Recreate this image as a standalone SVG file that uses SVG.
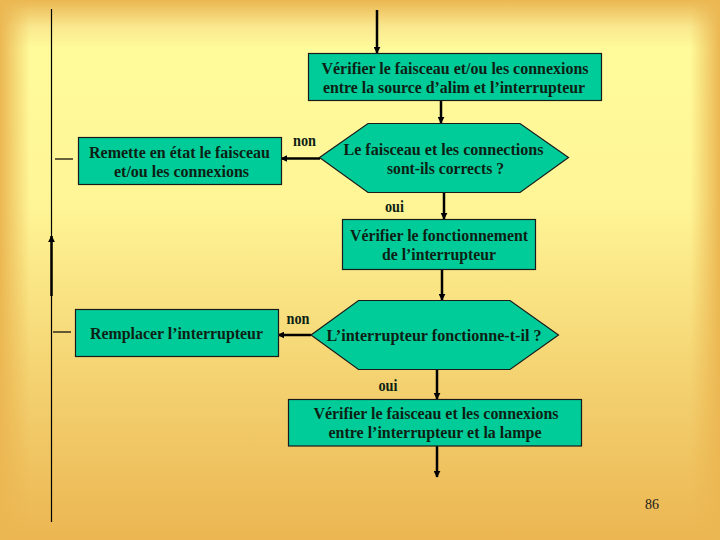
<svg xmlns="http://www.w3.org/2000/svg" width="720" height="540" viewBox="0 0 720 540">
<defs>
<linearGradient id="bgv" x1="0" y1="0" x2="0" y2="1">
<stop offset="0" stop-color="#EBB752"/>
<stop offset="0.05" stop-color="#FAE88E"/>
<stop offset="0.09" stop-color="#FFFB9B"/>
<stop offset="0.38" stop-color="#FFF596"/>
<stop offset="0.7" stop-color="#F4D271"/>
<stop offset="1" stop-color="#EBB652"/>
</linearGradient>
<linearGradient id="bgl" x1="0" y1="0" x2="1" y2="0">
<stop offset="0" stop-color="#EBB752" stop-opacity="1"/>
<stop offset="1" stop-color="#EBB752" stop-opacity="0"/>
</linearGradient>
<linearGradient id="bgr" x1="1" y1="0" x2="0" y2="0">
<stop offset="0" stop-color="#EBB752" stop-opacity="1"/>
<stop offset="1" stop-color="#EBB752" stop-opacity="0"/>
</linearGradient>
<marker id="ah" viewBox="0 0 10 10" refX="9" refY="5" markerWidth="7" markerHeight="7" markerUnits="userSpaceOnUse" orient="auto">
<path d="M0,0 L10,5 L0,10 Z" fill="#000"/>
</marker>
</defs>
<style>
.box{fill:#00CC99;stroke:#1a1a1a;stroke-width:1.2}
.t{font-family:"Liberation Serif","Times New Roman",serif;font-size:16px;font-weight:bold;fill:#0d1f14;text-anchor:middle}
.lbl{font-family:"Liberation Serif","Times New Roman",serif;font-size:16px;font-weight:bold;fill:#0d1f14;text-anchor:middle}
.arr{stroke:#000;stroke-width:2.5;fill:none;marker-end:url(#ah)}
.thin{stroke:#000;stroke-width:1.2;fill:none}
</style>
<rect x="0" y="0" width="720" height="540" fill="url(#bgv)"/>
<rect x="0" y="0" width="30" height="540" fill="url(#bgl)"/>
<rect x="690" y="0" width="30" height="540" fill="url(#bgr)"/>

<g id="connectors">
<line class="thin" x1="51.5" y1="9" x2="51.5" y2="522"/>
<line class="arr" x1="51.5" y1="296" x2="51.5" y2="236"/>
<line class="thin" x1="55" y1="159" x2="73" y2="159"/>
<line class="thin" x1="53" y1="332" x2="71" y2="332"/>
<line class="arr" x1="377" y1="10" x2="377" y2="53"/>
<line class="arr" x1="441" y1="100" x2="441" y2="123"/>
<line class="arr" x1="320" y1="158.5" x2="281" y2="158.5"/>
<line class="arr" x1="444" y1="193" x2="444" y2="219"/>
<line class="arr" x1="442" y1="269" x2="442" y2="300"/>
<line class="arr" x1="311" y1="335" x2="278" y2="335"/>
<line class="arr" x1="437" y1="369" x2="437" y2="399"/>
<line class="arr" x1="437" y1="446" x2="437" y2="477"/>
<text class="lbl" x="304.5" y="146" textLength="23" lengthAdjust="spacingAndGlyphs">non</text>
<text class="lbl" x="394.5" y="212" textLength="19" lengthAdjust="spacingAndGlyphs">oui</text>
<text class="lbl" x="298" y="324" textLength="23" lengthAdjust="spacingAndGlyphs">non</text>
<text class="lbl" x="388" y="391" textLength="19" lengthAdjust="spacingAndGlyphs">oui</text>
</g>

<g id="n1">
<rect class="box" x="308.5" y="53.5" width="293" height="47"/>
<text class="t" x="455" y="74" textLength="267" lengthAdjust="spacingAndGlyphs">Vérifier le faisceau et/ou les connexions</text>
<text class="t" x="454" y="93" textLength="262" lengthAdjust="spacingAndGlyphs">entre la source d’alim et l’interrupteur</text>
</g>

<g id="n2">
<polygon class="box" points="319.5,157.5 368,123.5 520,123.5 568.5,157.5 520,192.5 368,192.5"/>
<text class="t" x="443.5" y="155" textLength="200" lengthAdjust="spacingAndGlyphs">Le faisceau et les connections</text>
<text class="t" x="445.5" y="174" textLength="117" lengthAdjust="spacingAndGlyphs">sont-ils corrects ?</text>
</g>

<g id="n3">
<rect class="box" x="78.5" y="137.5" width="203" height="47"/>
<text class="t" x="179.5" y="158" textLength="181" lengthAdjust="spacingAndGlyphs">Remette en état le faisceau</text>
<text class="t" x="181.5" y="177" textLength="135" lengthAdjust="spacingAndGlyphs">et/ou les connexions</text>
</g>

<g id="n4">
<rect class="box" x="342.5" y="219.5" width="193" height="50"/>
<text class="t" x="439" y="241" textLength="178" lengthAdjust="spacingAndGlyphs">Vérifier le fonctionnement</text>
<text class="t" x="439" y="260" textLength="114" lengthAdjust="spacingAndGlyphs">de l’interrupteur</text>
</g>

<g id="n5">
<polygon class="box" points="311,335 358.5,300.5 510,300.5 558.5,335 510,369.5 358.5,369.5"/>
<text class="t" x="434" y="341" textLength="215" lengthAdjust="spacingAndGlyphs">L’interrupteur fonctionne-t-il ?</text>
</g>

<g id="n6">
<rect class="box" x="75.5" y="309.5" width="203" height="47"/>
<text class="t" x="176.5" y="339" textLength="173" lengthAdjust="spacingAndGlyphs">Remplacer l’interrupteur</text>
</g>

<g id="n7">
<rect class="box" x="288.5" y="399.5" width="293" height="46.5"/>
<text class="t" x="436" y="419" textLength="245" lengthAdjust="spacingAndGlyphs">Vérifier le faisceau et les connexions</text>
<text class="t" x="435" y="438" textLength="213" lengthAdjust="spacingAndGlyphs">entre l’interrupteur  et la lampe</text>
</g>

<text x="652" y="509" style="font-family:'Liberation Serif','Times New Roman',serif;font-size:14px;fill:#1a1a1a;text-anchor:middle">86</text>
</svg>
